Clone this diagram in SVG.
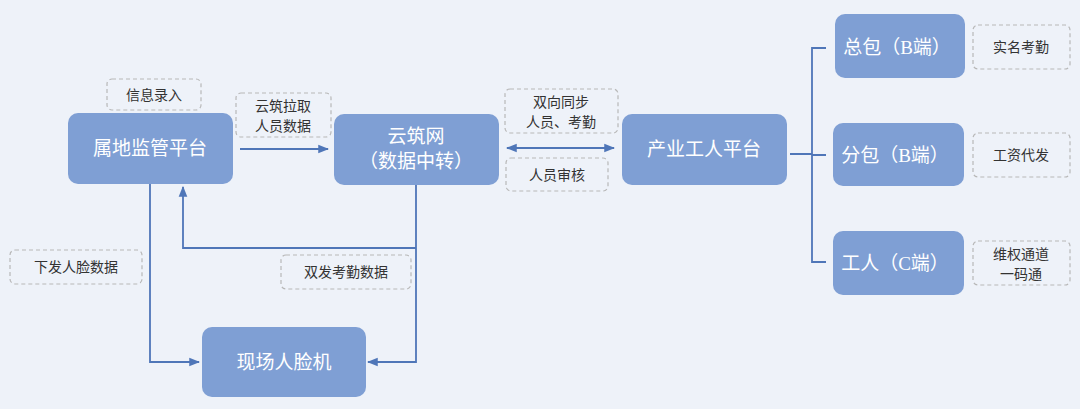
<svg xmlns="http://www.w3.org/2000/svg" width="1080" height="409" viewBox="0 0 1080 409">
<style>
.n{fill:#7f9fd4}
.nt{fill:#fff;font-family:"Liberation Serif","Noto Sans CJK SC",serif;font-size:19px;text-anchor:middle}
.l{fill:none;stroke:#b8b8b8;stroke-width:1.2;stroke-dasharray:4 3}
.lt{fill:#333;font-family:"Noto Sans CJK SC",sans-serif;font-size:14px;text-anchor:middle}
.c{fill:none;stroke:#4f76b8;stroke-width:1.8}
</style>
<defs><marker id="a" viewBox="0 0 10 10" refX="9" refY="5" markerWidth="6" markerHeight="6" orient="auto-start-reverse"><path d="M0,1L10,5L0,9z" fill="#4f76b8"/></marker></defs>
<rect width="1080" height="409" fill="#eef2f9"/>
<g id="connectors">
<path class="c" d="M240,149H328" marker-end="url(#a)"/>
<path class="c" d="M507,148H614" marker-start="url(#a)" marker-end="url(#a)"/>
<path class="c" d="M790,154H812M826,48H812V262H826M812,155H826"/>
<path class="c" d="M150,184V362H199" marker-end="url(#a)"/>
<path class="c" d="M416,185V362H368" marker-end="url(#a)"/>
<path class="c" d="M416,248H183V187" marker-end="url(#a)"/>
</g>
<g id="n1"><rect class="n" x="68" y="113" width="165" height="71" rx="10"/><text class="nt" x="150" y="155">属地监管平台</text></g>
<g id="n2"><rect class="n" x="334" y="114" width="165" height="71" rx="10"/><text class="nt" x="416" y="143">云筑网</text><text class="nt" x="416" y="168">（数据中转）</text></g>
<g id="n3"><rect class="n" x="622" y="114" width="165" height="71" rx="10"/><text class="nt" x="704" y="156">产业工人平台</text></g>
<g id="n4"><rect class="n" x="835" y="14" width="130" height="64" rx="10"/><text class="nt" x="897" y="54">总包（B端）</text></g>
<g id="n5"><rect class="n" x="833" y="123" width="131" height="63" rx="10"/><text class="nt" x="895" y="162">分包（B端）</text></g>
<g id="n6"><rect class="n" x="833" y="231" width="131" height="64" rx="10"/><text class="nt" x="895" y="270">工人（C端）</text></g>
<g id="n7"><rect class="n" x="202" y="327" width="164" height="70" rx="10"/><text class="nt" x="284" y="369">现场人脸机</text></g>
<g id="labels">
<rect class="l" x="107" y="79" width="94" height="31" rx="5"/><text class="lt" x="154" y="100">信息录入</text>
<rect class="l" x="236" y="93" width="95" height="44" rx="5"/><text class="lt" x="283" y="111">云筑拉取</text><text class="lt" x="283" y="131">人员数据</text>
<rect class="l" x="505" y="89" width="113" height="44" rx="5"/><text class="lt" x="561" y="107">双向同步</text><text class="lt" x="561" y="127">人员、考勤</text>
<rect class="l" x="506" y="158" width="102" height="33" rx="5"/><text class="lt" x="557" y="180">人员审核</text>
<rect class="l" x="973" y="25" width="97" height="44" rx="5"/><text class="lt" x="1021" y="52">实名考勤</text>
<rect class="l" x="973" y="133" width="97" height="44" rx="5"/><text class="lt" x="1021" y="160">工资代发</text>
<rect class="l" x="973" y="241" width="97" height="44" rx="5"/><text class="lt" x="1021" y="259">维权通道</text><text class="lt" x="1021" y="279">一码通</text>
<rect class="l" x="10" y="250" width="132" height="34" rx="5"/><text class="lt" x="76" y="272">下发人脸数据</text>
<rect class="l" x="281" y="255" width="130" height="34" rx="5"/><text class="lt" x="346" y="277">双发考勤数据</text>
</g>
</svg>
